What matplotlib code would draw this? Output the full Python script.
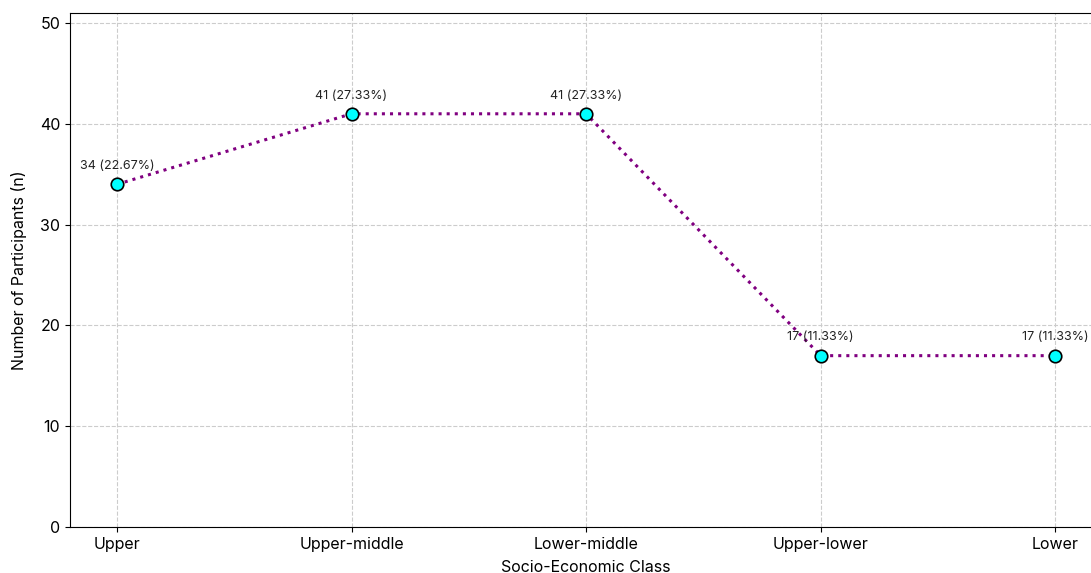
import matplotlib
matplotlib.use('Agg')
import matplotlib.pyplot as plt

plt.rcParams['font.family'] = ['Inter', 'DejaVu Sans']

# data
classes = ['Upper', 'Upper-middle', 'Lower-middle', 'Upper-lower', 'Lower']
counts = [34, 41, 41, 17, 17]
percents = [22.67, 27.33, 27.33, 11.33, 11.33]

fig = plt.figure(figsize=(10.91, 5.73), dpi=100)
ax = fig.add_axes([0.0642, 0.0803, 0.946, 0.897])

x = list(range(len(classes)))
ax.plot(x, counts, linestyle=':', color='purple', linewidth=2.2,
        marker='o', markersize=9, markerfacecolor='cyan',
        markeredgecolor='black', markeredgewidth=1.2, zorder=3)

for xi, n, p in zip(x, counts, percents):
    ax.annotate(f'{n} ({p:.2f}%)', (xi, n), textcoords='offset points',
                xytext=(0, 11), ha='center', fontsize=9, color='#222222')

ax.set_xticks(x)
ax.set_xticklabels(classes, fontsize=11.5)
ax.set_xlim(-0.2, 4.2)
ax.set_ylim(0, 51)
ax.set_yticks([0, 10, 20, 30, 40, 50])
ax.tick_params(axis='y', labelsize=11.5)
ax.set_xlabel('Socio-Economic Class', fontsize=11.5, labelpad=6)
ax.set_ylabel('Number of Participants (n)', fontsize=11.5, labelpad=9)
ax.grid(True, linestyle='--', color='#cccccc', linewidth=0.8)
ax.set_axisbelow(True)

fig.savefig('out.png', dpi=100)
